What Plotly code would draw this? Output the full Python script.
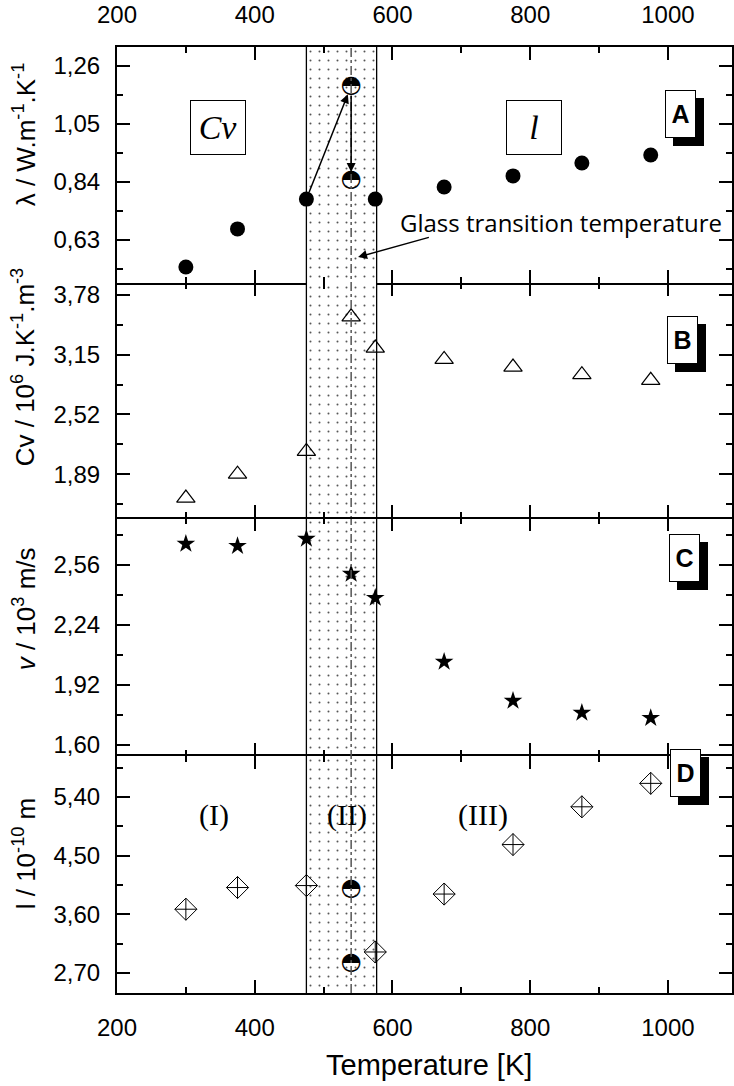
import plotly.graph_objects as go

# ---------------- data ----------------
temps = [300, 375, 475, 575, 675, 775, 875, 975]
lam = [0.532, 0.670, 0.778, 0.778, 0.822, 0.862, 0.909, 0.938]
cv = [1.638, 1.890, 2.130, 3.220, 3.100, 3.020, 2.940, 2.880]
vel = [2.672, 2.661, 2.699, 2.384, 2.043, 1.835, 1.771, 1.744]
lpath = [3.677, 4.010, 4.040, 3.020, 3.910, 4.670, 5.250, 5.610]

tg = 540
cv_tg = [3.55]
vel_tg = [2.512]
lam_tg = [1.188, 0.847]
l_tg = [3.98, 2.85]

band = [475, 577]
x_range = [200, 1093]
y_ranges = {
    "A": [0.474, 1.329],
    "B": [1.428, 3.906],
    "C": [1.541, 2.810],
    "D": [2.39, 6.03],
}
y_ticks = {  # tick0, dtick
    "A": (0.63, 0.21),
    "B": (1.89, 0.63),
    "C": (1.60, 0.32),
    "D": (2.70, 0.90),
}
y_titles = {
    "A": "λ / W.m<sup>-1</sup>.K<sup>-1</sup>",
    "B": "Cv / 10<sup>6</sup> J.K<sup>-1</sup>.m<sup>-3</sup>",
    "C": "<i>v</i> / 10<sup>3</sup> m/s",
    "D": "l / 10<sup>-10</sup> m",
}
panels = ["A", "B", "C", "D"]
domains = {"A": [0.7505, 1.0], "B": [0.5021, 0.7505], "C": [0.2505, 0.5021], "D": [0.0, 0.2505]}

SANS = "Liberation Sans, Arial, sans-serif"
SERIF = "Liberation Serif, Times New Roman, serif"

fig = go.Figure()

# dotted band in each panel
for i, p in enumerate(panels, start=1):
    y0, y1 = y_ranges[p]
    fig.add_trace(go.Scatter(
        x=[band[0], band[1], band[1], band[0], band[0]],
        y=[y0, y0, y1, y1, y0],
        xaxis=f"x{i}", yaxis=f"y{i}",
        mode="lines", line=dict(width=0), fill="toself",
        fillcolor="white",
        fillpattern=dict(shape=".", size=9, solidity=0.04, fgcolor="#555", bgcolor="white", fillmode="replace"),
        hoverinfo="skip", showlegend=False,
    ))

# panel A
fig.add_trace(go.Scatter(x=temps, y=lam, mode="markers", xaxis="x1", yaxis="y1",
                         marker=dict(symbol="circle", size=15, color="black"), showlegend=False))
fig.add_trace(go.Scatter(x=[tg] * len(lam_tg), y=lam_tg, mode="text", xaxis="x1", yaxis="y1",
                         text=["◓"] * len(lam_tg), textposition="middle center",
                         textfont=dict(family="DejaVu Sans", size=24, color="black"), showlegend=False))
# panel B
fig.add_trace(go.Scatter(x=temps + [tg], y=cv + cv_tg, mode="markers", xaxis="x2", yaxis="y2",
                         marker=dict(symbol="triangle-up-open", size=16, color="black", line=dict(width=1.2)),
                         showlegend=False))
# panel C
fig.add_trace(go.Scatter(x=temps + [tg], y=vel + vel_tg, mode="markers", xaxis="x3", yaxis="y3",
                         marker=dict(symbol="star", size=14, color="black"), showlegend=False))
# panel D
fig.add_trace(go.Scatter(x=temps, y=lpath, mode="markers", xaxis="x4", yaxis="y4",
                         marker=dict(symbol="diamond-cross-open", size=17, color="black", line=dict(width=1)),
                         showlegend=False))
fig.add_trace(go.Scatter(x=[tg] * len(l_tg), y=l_tg, mode="text", xaxis="x4", yaxis="y4",
                         text=["◓"] * len(l_tg), textposition="middle center",
                         textfont=dict(family="DejaVu Sans", size=24, color="black"), showlegend=False))

# axes
layout = dict(
    width=734, height=1086,
    margin=dict(l=117, r=0, t=47, b=93),
    paper_bgcolor="white", plot_bgcolor="white",
    separators=",.",
    font=dict(family=SANS, size=24, color="black"),
    showlegend=False,
)
# which x axes draw their own frame lines (avoid doubled separators)
x_line = {"A": (True, "allticks"), "B": (False, "ticks"), "C": (False, "ticks"), "D": (True, "allticks")}
for i, p in enumerate(panels, start=1):
    show_line, mir = x_line[p]
    xa = dict(
        range=x_range, anchor=f"y{i}", showline=show_line, linecolor="black", linewidth=2,
        mirror=mir, ticks="inside", ticklen=13, tickwidth=2, tickcolor="black",
        tick0=200, dtick=200, showgrid=False, zeroline=False,
        minor=dict(ticks="inside", ticklen=6, tickwidth=2, tickcolor="black", dtick=100, tick0=200),
        tickfont=dict(family=SANS, size=24),
        ticklabelstandoff=12,
    )
    if i > 1:
        xa["matches"] = "x"
    if p == "A":
        xa["side"] = "top"
        xa["showticklabels"] = True
    elif p == "D":
        xa["side"] = "bottom"
        xa["showticklabels"] = True
    else:
        xa["showticklabels"] = False
    t0, dt = y_ticks[p]
    ya = dict(
        domain=domains[p], range=y_ranges[p], anchor=f"x{i}",
        showline=True, linecolor="black", linewidth=2,
        mirror="allticks", ticks="inside", ticklen=13, tickwidth=2, tickcolor="black",
        tick0=t0, dtick=dt, tickformat=".2f", showgrid=False, zeroline=False,
        minor=dict(ticks="inside", ticklen=6, tickwidth=2, tickcolor="black", dtick=dt / 2, tick0=t0),
        tickfont=dict(family=SANS, size=24),
        ticklabelstandoff=10,
    )
    key = "" if i == 1 else str(i)
    layout[f"xaxis{key}"] = xa
    layout[f"yaxis{key}"] = ya
fig.update_layout(**layout)

# vertical lines: band edges and Tg; separator between B and C
shapes = []
for bx in band:
    shapes.append(dict(type="line", xref="x", yref="paper", x0=bx, x1=bx, y0=0, y1=1,
                       line=dict(color="black", width=1.3)))
shapes.append(dict(type="line", xref="x", yref="paper", x0=tg, x1=tg, y0=0, y1=1,
                   line=dict(color="#555", width=1.5, dash="dashdot")))
shapes.append(dict(type="line", xref="paper", yref="paper", x0=0, x1=1,
                   y0=domains["C"][1], y1=domains["C"][1], line=dict(color="black", width=2)))
fig.update_layout(shapes=shapes)

ann = []
# y titles
title_y = {"A": (993 - 134) / 946, "B": (993 - 367) / 946, "C": (993 - 609) / 946, "D": (993 - 853) / 946}
for p in panels:
    ann.append(dict(text=y_titles[p], xref="paper", yref="paper", x=(24 - 117) / 617, y=title_y[p],
                    textangle=-90, showarrow=False, xanchor="center", yanchor="middle",
                    font=dict(family=SANS, size=26)))
# x title
ann.append(dict(text="Temperature [K]", xref="paper", yref="paper", x=(430 - 117) / 617,
                y=(993 - 1065) / 946, showarrow=False, xanchor="center", yanchor="middle",
                font=dict(family=SANS, size=29)))
# panel letters with shadow
letter_pos = {"A": (698, 89.5), "B": (700, 316.5), "C": (702, 557.5), "D": (703, 797)}
for p in panels:
    px, py = letter_pos[p]
    xp, yp = (px - 117) / 617, (993 - py) / 946
    ann.append(dict(text=f"<b>{p}</b>", xref="paper", yref="paper", x=xp, y=yp, xshift=8, yshift=-8,
                    showarrow=False, width=29, height=46, bgcolor="black", bordercolor="black",
                    borderwidth=1, borderpad=0, font=dict(family=SANS, size=25, color="black")))
    ann.append(dict(text=f"<b>{p}</b>", xref="paper", yref="paper", x=xp, y=yp,
                    showarrow=False, width=29, height=46, bgcolor="white", bordercolor="black",
                    borderwidth=1, borderpad=0, font=dict(family=SANS, size=25, color="black")))
# Cv and l boxes
ann.append(dict(text="<i>Cv</i>", xref="x", yref="y", x=347, y=1.039, showarrow=False,
                width=52, height=51, bordercolor="black", borderwidth=1, bgcolor="white",
                font=dict(family=SERIF, size=34)))
ann.append(dict(text="<i>l</i>", xref="x", yref="y", x=806, y=1.039, showarrow=False,
                width=52, height=51, bordercolor="black", borderwidth=1, bgcolor="white",
                font=dict(family=SERIF, size=34)))
# arrows in A
ann.append(dict(xref="x", yref="y", axref="x", ayref="y", x=tg, y=lam_tg[0], ax=band[0], ay=lam[2],
                showarrow=True, arrowhead=2, arrowsize=1.2, arrowwidth=1.5, arrowcolor="black",
                standoff=9, startstandoff=6, text=""))
ann.append(dict(xref="x", yref="y", axref="x", ayref="y", x=tg, y=lam_tg[1], ax=tg, ay=lam_tg[0],
                showarrow=True, arrowhead=2, arrowsize=1.2, arrowwidth=1.5, arrowcolor="black",
                standoff=8, startstandoff=8, text=""))
# glass transition text and arrow
ann.append(dict(text="Glass transition temperature", xref="x", yref="y", x=845, y=0.695,
                showarrow=False, font=dict(family="Open Sans", size=24)))
ann.append(dict(xref="x", yref="y", axref="x", ayref="y", x=550, y=0.568, ax=655, ay=0.641,
                showarrow=True, arrowhead=2, arrowsize=1.2, arrowwidth=1.5, arrowcolor="black", text=""))
# region labels in D
for txt, xx in [("(I)", 341), ("(II)", 534), ("(III)", 732)]:
    ann.append(dict(text=txt, xref="x4", yref="y4", x=xx, y=5.12, showarrow=False,
                    font=dict(family=SERIF, size=30)))
fig.update_layout(annotations=ann)

fig.write_html("out.html")
